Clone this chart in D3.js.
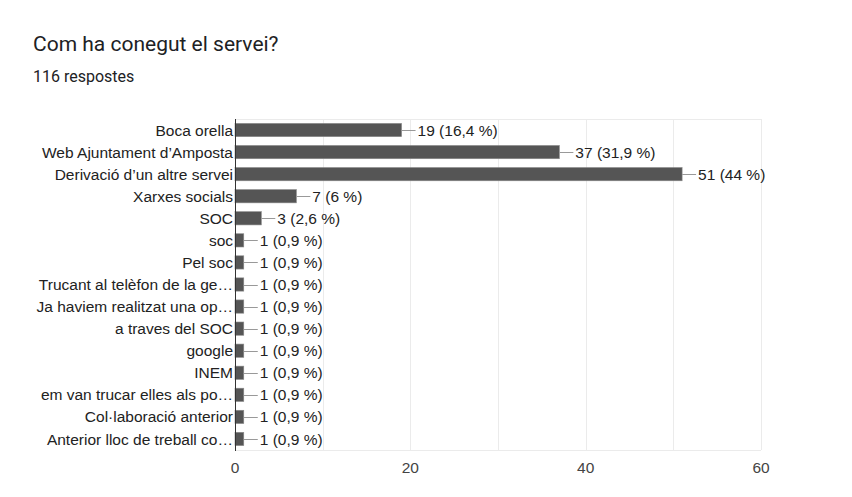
<!DOCTYPE html>
<html><head><meta charset="utf-8">
<script src="https://cdn.jsdelivr.net/npm/d3@7"></script>
<style>
html,body{margin:0;padding:0;background:#fff;}
svg{display:block;}
</style></head>
<body>
<svg id="chart" width="852" height="497"></svg>
<script>
const title = "Com ha conegut el servei?";
const subtitle = "116 respostes";
const total = 116;
const categories = [
  "Boca orella",
  "Web Ajuntament d’Amposta",
  "Derivació d’un altre servei",
  "Xarxes socials",
  "SOC",
  "soc",
  "Pel soc",
  "Trucant al telèfon de la ge…",
  "Ja haviem realitzat una op…",
  "a traves del SOC",
  "google",
  "INEM",
  "em van trucar elles als po…",
  "Col·laboració anterior",
  "Anterior lloc de treball co…"
];
const values = [19, 37, 51, 7, 3, 1, 1, 1, 1, 1, 1, 1, 1, 1, 1];
const xTicks = [0, 20, 40, 60];
const xGrid = [10, 20, 30, 40, 50, 60];

const svg = d3.select("#chart");

svg.append("text").attr("x", 33).attr("y", 51)
  .attr("font-family", "Roboto, sans-serif").attr("font-size", 21)
  .attr("fill", "#202124").text(title);
svg.append("text").attr("x", 33).attr("y", 82)
  .attr("font-family", "Roboto, sans-serif").attr("font-size", 16)
  .attr("fill", "#202124").text(subtitle);

const pLeft = 235, pRight = 761, pTop = 119, pBottom = 450;
const x = d3.scaleLinear().domain([0, 60]).range([pLeft, pRight]);
const y = d3.scaleBand().domain(categories).range([pTop, pBottom]).paddingInner(0.4).paddingOuter(0.2);

const g = svg.append("g");
// grid
g.selectAll("line.grid").data(xGrid).join("line")
  .attr("x1", d => Math.round(x(d)) + 0.5).attr("x2", d => Math.round(x(d)) + 0.5)
  .attr("y1", pTop).attr("y2", pBottom)
  .attr("stroke", "#ebebeb").attr("stroke-width", 1);
g.append("line").attr("x1", pLeft).attr("x2", pRight).attr("y1", pTop + 0.5).attr("y2", pTop + 0.5)
  .attr("stroke", "#ebebeb");
g.append("line").attr("x1", pLeft).attr("x2", pRight).attr("y1", pBottom + 0.5).attr("y2", pBottom + 0.5)
  .attr("stroke", "#ebebeb");

const fmt = v => {
  const p = Math.round(v / total * 1000) / 10;
  return String(p).replace(".", ",");
};

// bars
g.selectAll("rect.bar").data(values).join("rect")
  .attr("x", x(0))
  .attr("y", (d, i) => y(categories[i]))
  .attr("width", d => x(d) - x(0))
  .attr("height", y.bandwidth())
  .attr("fill", "#555555")
  .attr("stroke", "#888")
  .attr("stroke-width", 0.6);

// leader lines
g.selectAll("line.lead").data(values).join("line")
  .attr("x1", d => x(d)).attr("x2", d => x(d) + 14)
  .attr("y1", (d, i) => Math.round(y(categories[i]) + y.bandwidth() / 2) + 0.5)
  .attr("y2", (d, i) => Math.round(y(categories[i]) + y.bandwidth() / 2) + 0.5)
  .attr("stroke", "#999").attr("stroke-width", 1);

// value labels
g.selectAll("text.val").data(values).join("text")
  .attr("x", d => x(d) + 16)
  .attr("y", (d, i) => y(categories[i]) + y.bandwidth() / 2)
  .attr("dy", "0.36em")
  .attr("font-family", "'Liberation Sans', Arial, sans-serif").attr("font-size", 15.5)
  .attr("fill", "#222")
  .text(d => `${d} (${fmt(d)} %)`);

// category labels
g.selectAll("text.cat").data(categories).join("text")
  .attr("x", pLeft - 2)
  .attr("y", d => y(d) + y.bandwidth() / 2)
  .attr("dy", "0.36em")
  .attr("text-anchor", "end")
  .attr("font-family", "'Liberation Sans', Arial, sans-serif").attr("font-size", 15.5)
  .attr("fill", "#222")
  .text(d => d);

// axis line
g.append("line").attr("x1", pLeft + 0.5).attr("x2", pLeft + 0.5).attr("y1", pTop).attr("y2", pBottom + 1)
  .attr("stroke", "#333").attr("stroke-width", 1);

// x tick labels
g.selectAll("text.tick").data(xTicks).join("text")
  .attr("x", d => x(d)).attr("y", 473)
  .attr("text-anchor", "middle")
  .attr("font-family", "'Liberation Sans', Arial, sans-serif").attr("font-size", 15.5)
  .attr("fill", "#444")
  .text(d => d);
</script>
</body></html>
